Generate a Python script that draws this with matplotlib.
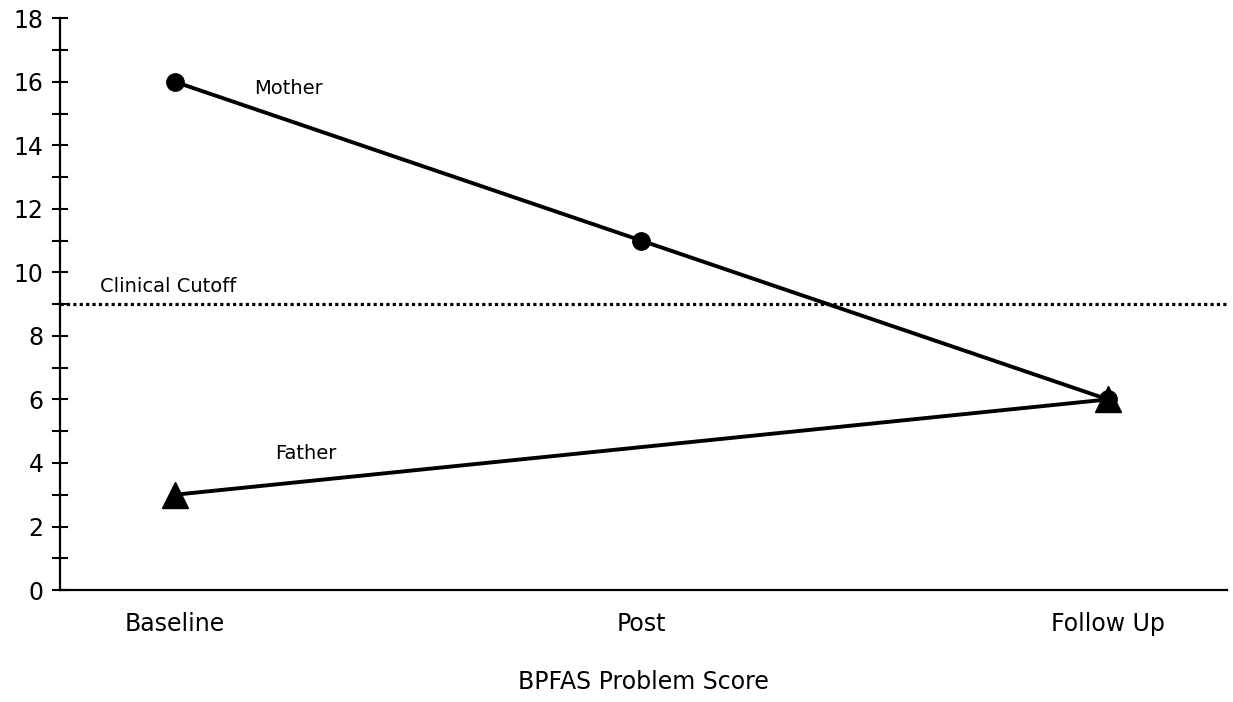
import numpy as np
import matplotlib
matplotlib.use("Agg")
import matplotlib.pyplot as plt

# Data
categories = ["Baseline", "Post", "Follow Up"]
mother_scores = [16, 11, 6]
father_x = [0, 2]
father_scores = [3, 6]
clinical_cutoff = 9

plt.rcParams["font.family"] = ["DejaVu Sans"]

fig = plt.figure(figsize=(12.33, 7.02), dpi=100)
ax = fig.add_axes([0.0487, 0.1595, 0.9463, 0.8145])

x = np.arange(len(categories))
ax.axhline(clinical_cutoff, color="black", lw=2.3, ls=(0, (1, 1)), zorder=1)
ax.plot(x, mother_scores, color="black", lw=2.8, marker="o", markersize=12.5, zorder=3)
ax.plot(father_x, father_scores, color="black", lw=2.8, marker="^", markersize=19, zorder=4)

ax.text(-0.16, clinical_cutoff + 0.25, "Clinical Cutoff", fontsize=14, ha="left", va="bottom")
ax.text(0.17, 15.8, "Mother", fontsize=14, ha="left", va="center")
ax.text(0.215, 4.3, "Father", fontsize=14, ha="left", va="center")

ax.set_xlim(-0.246, 2.255)
ax.set_ylim(0, 18)
ax.set_xticks(x)
ax.set_xticklabels(categories, fontsize=17)
ax.set_yticks(np.arange(0, 19, 2))
ax.set_yticks(np.arange(1, 18, 2), minor=True)
ax.tick_params(axis="y", which="both", direction="inout", length=12, width=1.5, labelsize=17, pad=6)
ax.tick_params(axis="x", length=0, pad=16)

for side in ("top", "right"):
    ax.spines[side].set_visible(False)
for side in ("left", "bottom"):
    ax.spines[side].set_linewidth(1.6)

ax.set_xlabel("BPFAS Problem Score", fontsize=17, labelpad=24)

fig.savefig("out.png", dpi=100)
